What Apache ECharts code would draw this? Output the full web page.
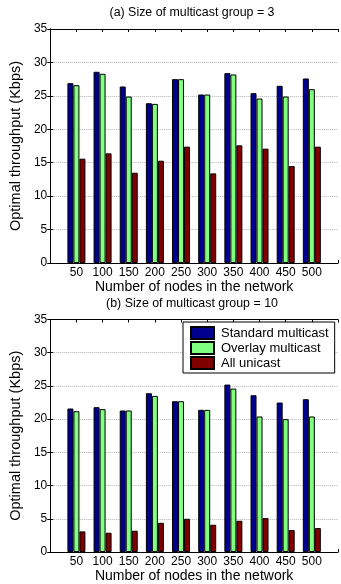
<!DOCTYPE html>
<html>
<head>
<meta charset="utf-8">
<script src="https://cdn.jsdelivr.net/npm/echarts@6/dist/echarts.min.js"></script>
<style>
  html, body { margin: 0; padding: 0; background: #fff; }
  #chart { width: 341px; height: 584px; }
</style>
</head>
<body>
<div id="chart"></div>
<script>
// Network sizes (x categories)
const nodes = [50, 100, 150, 200, 250, 300, 350, 400, 450, 500];
const seriesNames = ['Standard multicast', 'Overlay multicast', 'All unicast'];
const yTicks = [0, 5, 10, 15, 20, 25, 30, 35];

// (a) group size 3
const aStandard = [26.9, 28.6, 26.4, 23.9, 27.5, 25.2, 28.4, 25.4, 26.5, 27.6];
const aOverlay  = [26.6, 28.3, 24.9, 23.8, 27.5, 25.2, 28.2, 24.6, 24.9, 26.0];
const aUnicast  = [15.6, 16.4, 13.5, 15.3, 17.4, 13.4, 17.6, 17.1, 14.5, 17.4];

// (b) group size 10
const bStandard = [21.6, 21.8, 21.3, 23.9, 22.7, 21.4, 25.2, 23.6, 22.5, 23.0];
const bOverlay  = [21.2, 21.5, 21.3, 23.5, 22.7, 21.4, 24.6, 20.4, 20.0, 20.4];
const bUnicast  = [3.1, 2.9, 3.2, 4.4, 5.0, 4.1, 4.7, 5.1, 3.3, 3.6];

const colors = ['#00008f', '#80ff80', '#800000'];
const FONT = 'Liberation Sans, Arial, Helvetica, sans-serif';

const grids = [
  { left: 44, right: 2, top: 29, height: 234 },
  { left: 44, right: 2, top: 319.5, height: 234 }
];

// x positions 1..10 on an axis spanning 0..11
function pairs(vals) { return vals.map((v, i) => [i + 1, v]); }

const xAxes = [], yAxes = [];
grids.forEach((g, gi) => {
  // bottom x axis with labels
  xAxes.push({
    type: 'value', gridIndex: gi, min: 0, max: nodes.length + 1, interval: 1,
    position: 'bottom',
    name: 'Number of nodes in the network', nameLocation: 'middle', nameGap: 17,
    nameTextStyle: { fontFamily: FONT, fontSize: 14, color: '#000' },
    axisLine: { show: true, onZero: false, lineStyle: { color: '#000', width: 1 } },
    axisTick: { show: true, inside: true, length: 3, lineStyle: { color: '#000' } },
    axisLabel: {
      margin: 4, fontFamily: FONT, fontSize: 12, color: '#000',
      formatter: v => (v >= 1 && v <= nodes.length) ? String(nodes[v - 1]) : ''
    },
    splitLine: { show: false }
  });
  // top frame with inward ticks
  xAxes.push({
    type: 'value', gridIndex: gi, min: 0, max: nodes.length + 1, interval: 1,
    position: 'top',
    axisLine: { show: true, onZero: false, lineStyle: { color: '#000', width: 1 } },
    axisTick: { show: true, inside: true, length: 3, lineStyle: { color: '#000' } },
    axisLabel: { show: false },
    splitLine: { show: false }
  });
  yAxes.push({
    type: 'value', gridIndex: gi, min: yTicks[0], max: yTicks[yTicks.length - 1], interval: 5,
    position: 'left',
    name: 'Optimal throughput (Kbps)', nameLocation: 'middle', nameGap: 21,
    nameTextStyle: { fontFamily: FONT, fontSize: 14.5, color: '#000' },
    axisLine: { show: true, lineStyle: { color: '#000', width: 1 } },
    axisTick: { show: true, inside: true, length: 3, lineStyle: { color: '#000' } },
    axisLabel: { margin: 3, fontFamily: FONT, fontSize: 12, color: '#000' },
    splitLine: {
      show: true, showMinLine: false, showMaxLine: false,
      lineStyle: { type: 'dotted', color: '#b4b4b4', width: 1 }
    }
  });
  yAxes.push({
    type: 'value', gridIndex: gi, min: yTicks[0], max: yTicks[yTicks.length - 1], interval: 5,
    position: 'right',
    axisLine: { show: true, lineStyle: { color: '#000', width: 1 } },
    axisTick: { show: true, inside: true, length: 3, lineStyle: { color: '#000' } },
    axisLabel: { show: false },
    splitLine: { show: false }
  });
});

const panels = [
  [aStandard, aOverlay, aUnicast],
  [bStandard, bOverlay, bUnicast]
];

const series = [];
panels.forEach((set, gi) => {
  set.forEach((vals, si) => {
    series.push({
      type: 'bar',
      name: seriesNames[si],
      xAxisIndex: gi * 2,
      yAxisIndex: gi * 2,
      data: pairs(vals),
      barWidth: 6,
      barGap: '0%',
      itemStyle: { color: colors[si], borderColor: '#000', borderWidth: 1 },
      emphasis: { disabled: true },
      animation: false
    });
  });
});

const option = {
  backgroundColor: '#fff',
  animation: false,
  title: [
    {
      text: '(a) Size of multicast group = 3', left: 192, top: 7, textAlign: 'center', padding: 0,
      textStyle: { fontFamily: FONT, fontSize: 12.4, fontWeight: 'normal', color: '#000' }
    },
    {
      text: '(b) Size of multicast group = 10', left: 192, top: 298, textAlign: 'center', padding: 0,
      textStyle: { fontFamily: FONT, fontSize: 12.4, fontWeight: 'normal', color: '#000' }
    }
  ],
  legend: {
    data: seriesNames,
    orient: 'vertical',
    left: 183, top: 322,
    backgroundColor: '#fff',
    borderColor: '#000', borderWidth: 1, borderRadius: 0,
    padding: [4, 6, 3, 7],
    itemWidth: 23, itemHeight: 12, itemGap: 1,
    icon: 'rect',
    selectedMode: false,
    textStyle: { fontFamily: FONT, fontSize: 13, color: '#000', padding: [0, 0, 0, 2] }
  },
  grid: grids,
  xAxis: xAxes,
  yAxis: yAxes,
  series: series
};

const chart = echarts.init(document.getElementById('chart'), null, { renderer: 'canvas' });
chart.setOption(option);
</script>
</body>
</html>
